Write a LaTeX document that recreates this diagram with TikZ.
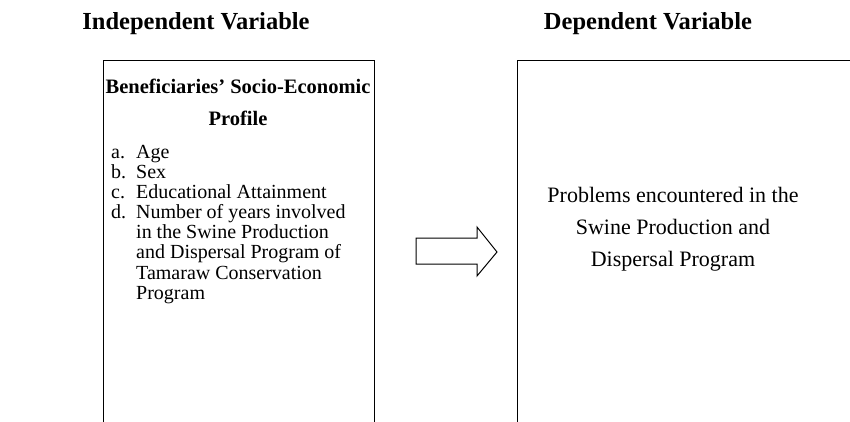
\documentclass[tikz,border=0pt]{standalone}
\usepackage{fontspec}
\setmainfont{Liberation Serif}
\begin{document}
\begin{tikzpicture}[x=1pt,y=-1pt,
  head/.style={font=\fontsize{24.5}{28}\selectfont\bfseries, inner sep=0pt},
  varbox/.style={draw, line width=1.3pt, anchor=north west, inner sep=0pt},
  body/.style={font=\fontsize{20}{20.1}\selectfont, inner sep=0pt, align=left},
  blockarrow/.style={draw, line width=1pt, line join=miter}
]
\useasboundingbox (0,0) rectangle (850,422);
\clip (0,0) rectangle (850,422);
\fill[white] (0,0) rectangle (850,422);

\node[head] (ih) at (196,24) {Independent Variable};
\node[head] (dh) at (648,24) {Dependent Variable};

\node[varbox, minimum width=271pt, minimum height=390pt] (lbox) at (103,60) {};
\node[varbox, minimum width=360pt, minimum height=390pt] (rbox) at (517,60) {};

\node[font=\fontsize{20.5}{32}\selectfont\bfseries, align=center, inner sep=0pt] (ltitle) at (238,102)
  {Beneficiaries’ Socio-Economic\\Profile};

\node[body, anchor=north west] (list) at (111,145) {%
\makebox[25pt][l]{a.}Age\\
\makebox[25pt][l]{b.}Sex\\
\makebox[25pt][l]{c.}Educational Attainment\\
\makebox[25pt][l]{d.}Number of years involved\\
\hspace*{25pt}in the Swine Production\\
\hspace*{25pt}and Dispersal Program of\\
\hspace*{25pt}Tamaraw Conservation\\
\hspace*{25pt}Program};

\node[font=\fontsize{22}{32}\selectfont, align=center, inner sep=0pt] (rtext) at (673,229)
  {Problems encountered in the\\Swine Production and\\Dispersal Program};

\coordinate (arr) at (456,251);
\draw[blockarrow] (416,238) -- (477,238) -- (477,227) -- (497,252)
  -- (477,276) -- (477,264) -- (416,264) -- cycle;
\end{tikzpicture}
\end{document}
